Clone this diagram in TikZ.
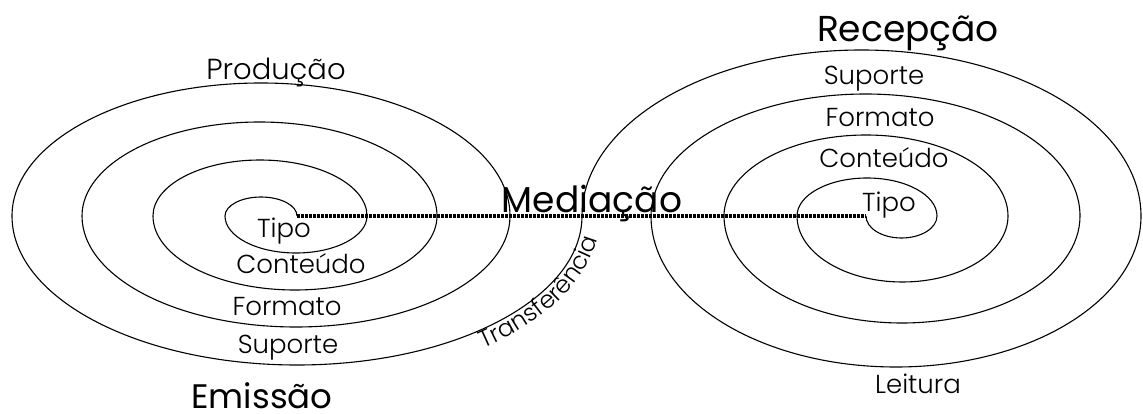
\documentclass[tikz,border=0pt]{standalone}
\usepackage{fontspec}
\setmainfont{Poppins}
\newfontfamily\lightfont{Poppins Light}
\usetikzlibrary{decorations.text}
\begin{document}
\begin{tikzpicture}[x=1pt,y=-1pt,
  spiral/.style={line width=1.1pt, draw=black},
  dotline/.style={line width=3.2pt, dash pattern=on 3pt off 1pt},
  ring/.style={font=\lightfont\fontsize{26}{30}\selectfont, inner sep=0pt, anchor=base},
  title/.style={font=\fontsize{36}{40}\selectfont, inner sep=0pt, anchor=base}]
\fill[white] (0,0) rectangle (1143,414);
\useasboundingbox (0,0) rectangle (1143,414);
\coordinate (Lc) at (297,216);
\coordinate (Rc) at (866,216);
% double spiral
\draw[spiral] (Lc)
  arc[start angle=0, end angle=-180, x radius=36, y radius=19]
  arc[start angle=-180, end angle=-360, x radius=71, y radius=37]
  arc[start angle=-360, end angle=-540, x radius=107, y radius=56]
  arc[start angle=-540, end angle=-720, x radius=142, y radius=74]
  arc[start angle=-720, end angle=-900, x radius=177.5, y radius=94]
  arc[start angle=-900, end angle=-1080, x radius=214, y radius=111]
  arc[start angle=-1080, end angle=-1260, x radius=249, y radius=133]
  arc[start angle=-1260, end angle=-1440, x radius=285, y radius=149]
  arc[start angle=180, end angle=360, x radius=279.5, y radius=166]
  arc[start angle=360, end angle=540, x radius=245, y radius=151]
  arc[start angle=540, end angle=720, x radius=214.5, y radius=122]
  arc[start angle=720, end angle=900, x radius=178, y radius=107]
  arc[start angle=900, end angle=1080, x radius=142, y radius=81]
  arc[start angle=1080, end angle=1260, x radius=105.5, y radius=66]
  arc[start angle=1260, end angle=1440, x radius=70, y radius=38]
  arc[start angle=1440, end angle=1620, x radius=35.5, y radius=22];
% mediation line
\draw[dotline] (Lc) -- (Rc);
% titles
\node[title, font=\lightfont\fontsize{29}{32}\selectfont] (prod) at (276,80) {Produção};
\node[title, font=\fontsize{34}{38}\selectfont] (emis) at (262,408) {Emissão};
\node[title] (recep) at (908,42) {Recepção};
\node[title] (med) at (592,213) {Mediação};
% left labels
\node[ring] (ltipo) at (284,237) {Tipo};
\node[ring] (lcont) at (301,273) {Conteúdo};
\node[ring] (lform) at (287,315) {Formato};
\node[ring] (lsup) at (288,353) {Suporte};
% right labels
\node[ring] (rsup) at (874,85) {Suporte};
\node[ring] (rform) at (880,127) {Formato};
\node[ring] (rcont) at (884,168) {Conteúdo};
\node[ring] (rtipo) at (889,212) {Tipo};
\node[ring] (leit) at (918,393) {Leitura};
% transfer text along the outer curve
\path[decorate, decoration={text along path, text align=left,
  text={|\lightfont\fontsize{24}{26}\selectfont|Transferência}}]
  (297,216) ++(52:303 and 168) arc[start angle=52, end angle=0, x radius=303, y radius=168];
\end{tikzpicture}
\end{document}
